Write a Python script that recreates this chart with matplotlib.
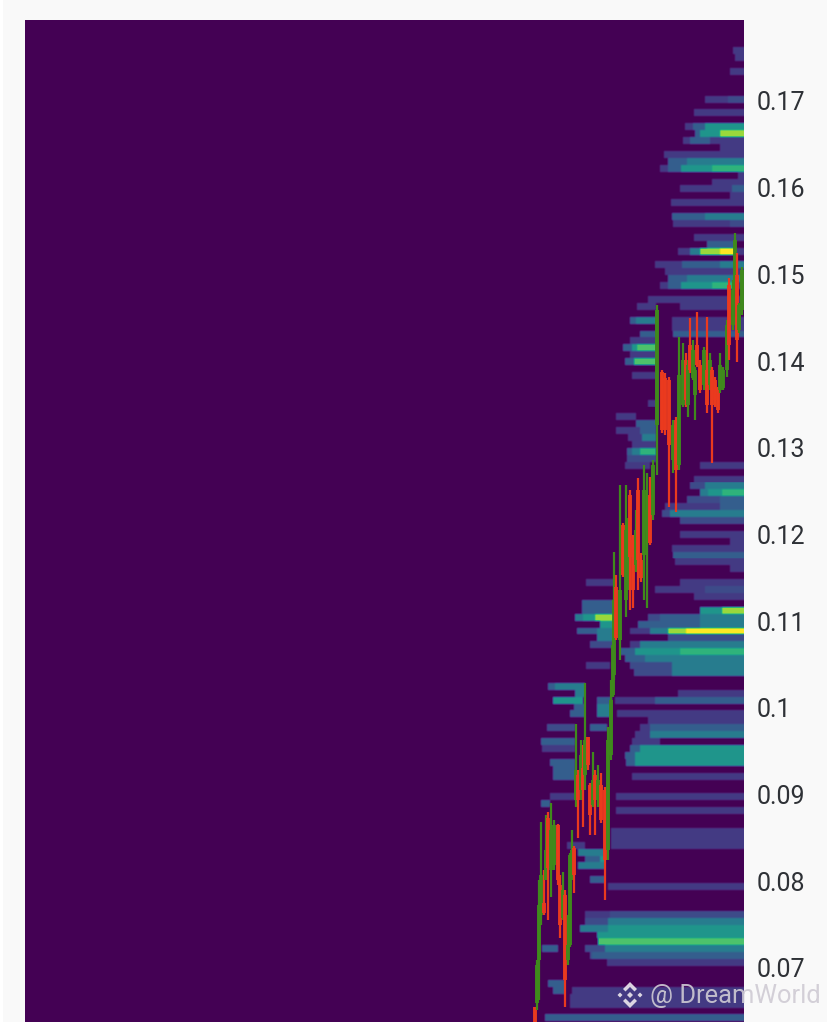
import matplotlib
matplotlib.use('Agg')
import matplotlib.pyplot as plt
import numpy as np
from matplotlib.patches import Polygon, Rectangle

# order book depth: (price bin, start time, end time) for each intensity
depth_13 = [(129, 733, 744), (128, 735, 744), (126, 730, 744), (122, 705, 744), (120, 694, 744),
            (118, 685, 744), (116, 683, 744), (115, 720, 744), (114, 664, 744), (112, 660, 744),
            (111, 738, 744), (110, 712, 744), (109, 680, 744), (108, 730, 744), (107, 671, 744),
            (104, 673, 744), (102, 694, 744), (100, 678, 744), (98, 655, 744), (97, 665, 744),
            (95, 660, 744), (93, 648, 744), (92, 637, 656), (92, 680, 735), (90, 672, 744),
            (89, 672, 744), (87, 630, 656), (85, 630, 656), (82, 632, 656), (78, 648, 656),
            (76, 616, 636), (74, 616, 640), (73, 628, 642), (72, 632, 656), (69, 625, 650),
            (69, 700, 744), (67, 694, 744), (63, 665, 744), (59, 680, 744), (58, 730, 744),
            (57, 672, 744), (55, 675, 744), (54, 730, 744), (52, 586, 614), (52, 680, 744),
            (51, 655, 744), (50, 694, 744), (45, 630, 650), (43, 630, 640), (40, 586, 610),
            (36, 678, 744), (35, 615, 655), (33, 617, 744), (32, 648, 744), (31, 640, 650),
            (30, 635, 650), (29, 632, 660), (28, 542, 575), (24, 632, 744), (21, 550, 575),
            (21, 616, 744), (19, 616, 744), (16, 611, 744), (15, 611, 744), (14, 611, 744),
            (14, 567, 585), (8, 608, 744), (4, 585, 610), (-3, 607, 744), (-7, 572, 744),
            (-8, 570, 744), (-9, 570, 744)]
depth_20 = [(122, 728, 744), (104, 730, 744), (70, 627, 656), (66, 690, 744), (64, 687, 744),
            (62, 662, 670), (61, 680, 744), (51, 705, 744), (47, 648, 660), (44, 668, 744),
            (43, 590, 614), (40, 630, 672), (39, 634, 672), (31, 547, 575), (4, 610, 744),
            (3, 585, 608), (-1, 585, 605), (-2, 590, 592)]
depth_30 = [(118, 693, 705), (117, 695, 700), (116, 690, 710), (113, 668, 687), (112, 668, 681),
            (109, 732, 744), (105, 672, 705), (101, 707, 735), (98, 682, 720), (96, 668, 687),
            (95, 668, 681), (90, 630, 636), (88, 640, 656), (88, 673, 744), (86, 623, 632),
            (84, 625, 634), (75, 636, 656), (74, 640, 656), (71, 627, 632), (64, 720, 744),
            (63, 720, 744), (56, 673, 744), (49, 582, 614), (48, 582, 614), (47, 660, 700),
            (46, 638, 700), (45, 577, 597), (42, 620, 635), (41, 625, 645), (37, 548, 555),
            (35, 597, 612), (35, 655, 744), (34, 574, 585), (33, 570, 585), (31, 590, 607),
            (31, 650, 744), (29, 541, 575), (28, 630, 640), (27, 625, 635), (26, 550, 575),
            (26, 626, 635), (25, 553, 575), (24, 553, 575), (20, 541, 550), (12, 585, 600),
            (9, 590, 605), (-1, 542, 558), (-2, 592, 744), (-6, 548, 565), (-7, 553, 565),
            (-11, 545, 744)]
depth_42 = [(113, 687, 744), (105, 705, 744), (100, 690, 700), (98, 720, 744), (96, 687, 744),
            (90, 636, 656), (73, 642, 656), (71, 632, 640), (66, 705, 744), (65, 700, 708),
            (62, 670, 744), (47, 575, 583), (47, 700, 744), (46, 700, 744), (45, 597, 614),
            (45, 650, 668), (44, 597, 614), (43, 640, 744), (41, 645, 744), (40, 672, 744),
            (39, 672, 744), (37, 555, 585), (36, 575, 585), (34, 597, 612), (33, 597, 612),
            (30, 650, 744), (13, 578, 605), (11, 578, 605), (3, 608, 744), (2, 580, 608),
            (-1, 605, 744)]
depth_52 = [(118, 705, 744), (117, 700, 720), (112, 681, 712), (95, 681, 712), (86, 632, 637),
            (65, 708, 722), (48, 700, 722), (47, 583, 595), (46, 600, 614), (42, 635, 680),
            (35, 553, 583), (28, 640, 744), (27, 635, 744), (26, 635, 744), (12, 600, 605),
            (2, 608, 744), (1, 597, 744)]
depth_65 = [(112, 712, 744), (95, 712, 735), (71, 640, 656), (65, 722, 744), (42, 680, 744)]
depth_72 = [(86, 637, 656), (84, 634, 656), (0, 598, 744)]
depth_85 = [(117, 720, 744), (100, 700, 720), (48, 722, 744), (47, 595, 614), (45, 668, 686)]
depth_100 = [(100, 720, 735), (45, 686, 744)]

candle_time = [535, 537, 539, 541, 544, 546, 548, 551, 554, 558, 560, 563, 565, 568, 570, 572,
               574, 576, 578, 581, 583, 585, 588, 590, 593, 595, 598, 601, 605, 608, 611, 613,
               614, 616, 620, 623, 626, 628, 630, 633, 636, 638, 641, 644, 647, 650, 653, 657,
               662, 665, 669, 673, 676, 679, 683, 686, 688, 690, 693, 695, 697, 700, 704, 707,
               710, 712, 715, 718, 720, 723, 727, 729, 733, 735, 737, 739, 742]
candle_open = [.0655, .0660, .0709, .0761, .0775, .0801, .0873, .0813, .0819, .0865, .0796, .0758,
               .0784, .0709, .0727, .0819, .0838, .0894, .0923, .0905, .0931, .0923, .0966, .0911,
               .0888, .0923, .0894, .0911, .0905, .0836, .0946, .1015, .1038, .1139, .1078, .1211,
               .1124, .1142, .1246, .1194, .1165, .1251, .1171, .1176, .1205, .1246, .1223, .1326,
               .1387, .1381, .1378, .1286, .1332, .1280, .1349, .1401, .1349, .1419, .1381, .1361,
               .1419, .1396, .1372, .1390, .1372, .1390, .1378, .1369, .1367, .1369, .1390, .1488,
               .1442, .1488, .1499, .1436, .1459]
candle_close = [.0638, .0703, .0773, .0807, .0763, .0836, .0815, .0859, .0865, .0801, .0750, .0790,
                .0686, .0727, .0830, .0836, .0807, .0928, .0894, .0946, .0905, .0963, .0934, .0876,
                .0917, .0894, .0917, .0871, .0825, .0963, .1009, .1073, .1124, .1081, .1136, .1153,
                .1205, .1199, .1174, .1136, .1205, .1171, .1150, .1251, .1228, .1190, .1280, .1459,
                .1321, .1321, .1303, .1326, .1274, .1384, .1401, .1355, .1396, .1390, .1413, .1390,
                .1396, .1367, .1413, .1349, .1401, .1349, .1355, .1344, .1396, .1390, .1442, .1419,
                .1482, .1540, .1424, .1465, .1505]
candle_high = [.0655, .0709, .0801, .0868, .0813, .0876, .0880, .0890, .0871, .0866, .0807, .0811,
               .0790, .0761, .0833, .0859, .0841, .0981, .0928, .0963, .0957, .1029, .0966, .0913,
               .0949, .0928, .0934, .0925, .0909, .0978, .1032, .1078, .1180, .1153, .1257, .1213,
               .1257, .1219, .1251, .1199, .1228, .1265, .1179, .1280, .1271, .1266, .1286, .1465,
               .1390, .1386, .1382, .1332, .1336, .1428, .1421, .1409, .1401, .1450, .1424, .1393,
               .1457, .1401, .1416, .1451, .1409, .1393, .1382, .1370, .1409, .1393, .1447, .1496,
               .1494, .1548, .1525, .1467, .1509]
candle_low = [.0638, .0652, .0663, .0750, .0761, .0801, .0755, .0782, .0813, .0796, .0735, .0755,
              .0655, .0703, .0724, .0801, .0787, .0886, .0850, .0894, .0863, .0905, .0928, .0853,
              .0886, .0853, .0886, .0867, .0778, .0825, .0940, .1013, .1032, .1078, .1055, .1151,
              .1105, .1136, .1113, .1115, .1157, .1136, .1145, .1124, .1115, .1188, .1217, .1269,
              .1317, .1315, .1232, .1271, .1226, .1274, .1347, .1347, .1336, .1386, .1378, .1332,
              .1393, .1363, .1367, .1340, .1367, .1282, .1347, .1340, .1363, .1367, .1382, .1401,
              .1436, .1482, .1399, .1432, .1453]

price_ticks = [0.07, 0.08, 0.09, 0.1, 0.11, 0.12, 0.13, 0.14, 0.15, 0.16, 0.17]
price_labels = ['0.07', '0.08', '0.09', '0.1', '0.11', '0.12', '0.13', '0.14', '0.15', '0.16', '0.17']

# price bins of the depth map
bin_size = 0.000796
bin_zero = 0.0730
first_bin = -12
last_bin = 134
row_zoom = 7


def soften(grid):
    # small blur, the reference is an upscaled screenshot
    kernel = np.array([0.25, 0.5, 0.25])
    grid = np.apply_along_axis(lambda v: np.convolve(v, kernel, mode='same'), 0, grid)
    grid = np.apply_along_axis(lambda v: np.convolve(v, kernel, mode='same'), 1, grid)
    return grid


plt.rcParams['font.family'] = ['Roboto', 'DejaVu Sans']

fig = plt.figure(figsize=(8.28, 10.22), dpi=100, facecolor='#f9f9f9')
fig.add_artist(Rectangle((0, 0), 3 / 828, 1, transform=fig.transFigure, facecolor='#ffffff', edgecolor='none'))
ax = fig.add_axes([25 / 828, 0, 719 / 828, 1002 / 1022])

# paint weak levels first so stronger ones sit on top
heat = np.zeros((last_bin - first_bin + 1, 744 - 25))
levels = [(0.17, depth_13), (0.23, depth_20), (0.30, depth_30), (0.42, depth_42), (0.52, depth_52),
          (0.65, depth_65), (0.72, depth_72), (0.85, depth_85), (1.0, depth_100)]
for level, cells in levels:
    for price_bin, start, end in cells:
        heat[price_bin - first_bin, start - 25:end - 25] = level

fine = soften(np.repeat(heat, row_zoom, axis=0))
# edge columns lose weight in the blur, keep them from the raw grid
fine[:, -1] = fine[:, -2]
fine[-1, :] = fine[-2, :]
fine[0, :] = fine[1, :]

edges = bin_zero + (np.arange(first_bin, last_bin + 2) - 0.5) * bin_size
ax.imshow(fine, origin='lower', aspect='auto', cmap='viridis', vmin=0, vmax=1,
          extent=[25, 744, edges[0], edges[-1]], interpolation='nearest')

for t, o, c, h, l in zip(candle_time, candle_open, candle_close, candle_high, candle_low):
    color = '#3f8a1c' if c >= o else '#ea3a1e'
    ax.vlines(t, l, h, color=color, linewidth=1.6, zorder=3)
    ax.vlines(t, min(o, c), max(o, c), color=color, linewidth=2.8, zorder=3)

ax.set_xlim(25, 744)
ax.set_ylim(0.06377, 0.17934)
ax.set_xticks([])
ax.yaxis.tick_right()
ax.set_yticks(price_ticks)
ax.set_yticklabels(price_labels, fontsize=18, color='#2e3136')
ax.tick_params(axis='y', length=0, pad=9)
for spine in ax.spines.values():
    spine.set_visible(False)

# watermark
over = fig.add_axes([0, 0, 1, 1], facecolor='none')
over.set_xlim(0, 828)
over.set_ylim(1022, 0)
over.axis('off')
mark = '#e4dfe8'
for pts in [[(630, 992), (633, 995), (630, 998), (627, 995)],
            [(620, 992.5), (622.5, 995), (620, 997.5), (617.5, 995)],
            [(640, 992.5), (642.5, 995), (640, 997.5), (637.5, 995)],
            [(630, 982), (637, 989), (634.5, 991.5), (630, 987), (625.5, 991.5), (623, 989)],
            [(630, 1008), (637, 1001), (634.5, 998.5), (630, 1003), (625.5, 998.5), (623, 1001)]]:
    over.add_patch(Polygon(pts, closed=True, facecolor=mark, edgecolor='none', alpha=0.95))
over.text(650, 996, '@ DreamWorld', fontsize=18.4, color='#cfcbd4', alpha=0.9, va='center', ha='left')

fig.savefig('out.png', dpi=100, facecolor=fig.get_facecolor())
